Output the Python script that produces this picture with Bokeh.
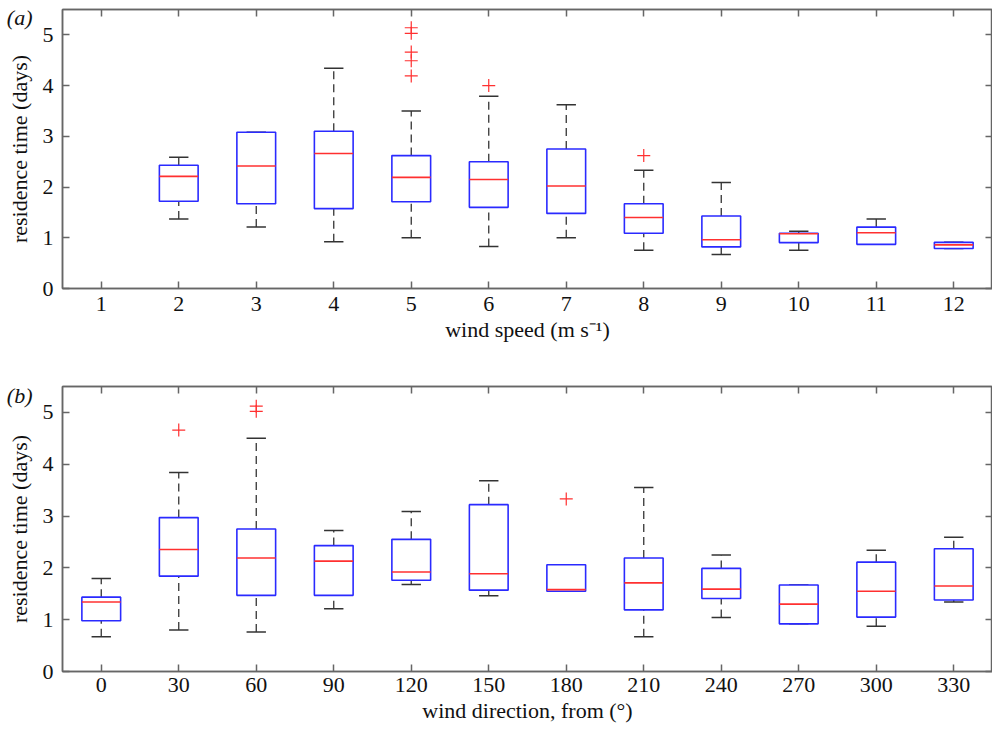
import numpy as np
from bokeh.plotting import figure
from bokeh.models import ColumnDataSource, LinearAxis, FixedTicker, Range1d
from bokeh.transform import dodge
from bokeh.layouts import column
from bokeh.embed import file_html
from bokeh.resources import INLINE

# ---------------- Panel (a): wind speed ----------------
speed_ticks = [1, 2, 3, 4, 5, 6, 7, 8, 9, 10, 11, 12]
speed_x = [2, 3, 4, 5, 6, 7, 8, 9, 10, 11, 12]
speed_lower = [1.37, 1.21, 0.92, 1.00, 0.83, 1.00, 0.755, 0.67, 0.755, 0.87, 0.79]
speed_q1 = [1.72, 1.67, 1.575, 1.71, 1.60, 1.48, 1.09, 0.82, 0.905, 0.87, 0.79]
speed_median = [2.21, 2.415, 2.66, 2.19, 2.15, 2.02, 1.40, 0.96, 1.08, 1.10, 0.86]
speed_q3 = [2.43, 3.08, 3.10, 2.62, 2.50, 2.75, 1.67, 1.43, 1.09, 1.21, 0.91]
speed_upper = [2.585, 3.08, 4.34, 3.50, 3.79, 3.62, 2.33, 2.09, 1.13, 1.37, 0.91]
speed_out_x = [5, 5, 5, 5, 5, 6, 8]
speed_out_y = [5.14, 5.03, 4.66, 4.49, 4.19, 4.00, 2.62]

# ---------------- Panel (b): wind direction ----------------
dir_labels = [0, 30, 60, 90, 120, 150, 180, 210, 240, 270, 300, 330]
dir_lower = [0.67, 0.80, 0.76, 1.21, 1.68, 1.46, 1.55, 0.67, 1.04, 0.92, 0.875, 1.34]
dir_q1 = [0.98, 1.84, 1.47, 1.47, 1.76, 1.57, 1.55, 1.19, 1.41, 0.92, 1.05, 1.38]
dir_median = [1.34, 2.355, 2.19, 2.13, 1.92, 1.885, 1.58, 1.71, 1.59, 1.30, 1.55, 1.65]
dir_q3 = [1.435, 2.97, 2.75, 2.43, 2.55, 3.22, 2.06, 2.19, 1.99, 1.67, 2.11, 2.37]
dir_upper = [1.795, 3.84, 4.50, 2.72, 3.09, 3.68, 2.06, 3.55, 2.25, 1.67, 2.34, 2.59]
dir_out_dir = [30, 60, 60, 180]
dir_out_y = [4.66, 5.12, 5.02, 3.33]

y_ticks = [0, 1, 2, 3, 4, 5]

FONT = "Liberation Serif"
FRAME = "#666666"
BOX = "#2a2aff"
MED = "#ff3030"
WHISK = "#333333"
OUT = "#ff3030"
TAG_POS = 97  # position (percent of frame height) of the panel tag


def make_panel(xs, lower, q1, med, q3, upper, out_x, out_y, tick_pos, overrides,
               xlabel, tag, height, b_top, b_bottom, tick_standoff):
    p = figure(width=992, height=height, output_backend="svg", toolbar_location=None,
               x_range=Range1d(0.5, 12.5), y_range=Range1d(0, 5.5),
               min_border_left=62, min_border_right=0, min_border_top=b_top,
               min_border_bottom=b_bottom)
    p.extra_y_ranges = {"tag": Range1d(0, 100)}
    p.xgrid.visible = False
    p.ygrid.visible = False
    p.outline_line_color = FRAME
    p.outline_line_width = 1.5
    p.background_fill_color = "white"
    p.border_fill_color = "white"

    src = ColumnDataSource(dict(x=xs, lower=lower, q1=q1, med=med, q3=q3, upper=upper))

    # whiskers (dashed)
    p.segment(x0="x", x1="x", y0="q3", y1="upper", source=src, line_color=WHISK,
              line_width=1.3, line_dash="8 5")
    p.segment(x0="x", x1="x", y0="lower", y1="q1", source=src, line_color=WHISK,
              line_width=1.3, line_dash="8 5")
    # caps
    p.segment(x0=dodge("x", -0.125), x1=dodge("x", 0.125), y0="upper", y1="upper",
              source=src, line_color=WHISK, line_width=1.5)
    p.segment(x0=dodge("x", -0.125), x1=dodge("x", 0.125), y0="lower", y1="lower",
              source=src, line_color=WHISK, line_width=1.5)
    # boxes
    p.vbar(x="x", width=0.5, bottom="q1", top="q3", source=src, fill_color="white",
           line_color=BOX, line_width=1.6)
    # medians
    p.segment(x0=dodge("x", -0.25), x1=dodge("x", 0.25), y0="med", y1="med",
              source=src, line_color=MED, line_width=1.6)
    # outliers
    p.scatter(x=out_x, y=out_y, marker="cross", size=13, line_color=OUT, line_width=1.2)

    def style_axis(ax, labels=True):
        ax.axis_line_color = FRAME
        ax.axis_line_width = 1.5
        ax.major_tick_line_color = FRAME
        ax.major_tick_line_width = 1.5
        ax.major_tick_in = 7
        ax.major_tick_out = 0
        ax.minor_tick_line_color = None
        if labels:
            ax.major_label_text_font = FONT
            ax.major_label_text_font_size = "22px"
            ax.major_label_text_color = "#111111"
            ax.axis_label_text_font = FONT
            ax.axis_label_text_font_size = "22px"
            ax.axis_label_text_font_style = "normal"
            ax.axis_label_text_color = "#111111"
        else:
            ax.major_label_text_font_size = "1px"
            ax.major_label_text_color = None
            ax.major_label_standoff = 0

    p.xaxis.ticker = FixedTicker(ticks=tick_pos)
    p.yaxis.ticker = FixedTicker(ticks=y_ticks)
    if overrides:
        p.xaxis.major_label_overrides = overrides
    style_axis(p.xaxis[0])
    style_axis(p.yaxis[0])
    p.xaxis.major_label_standoff = tick_standoff
    p.xaxis.axis_label_standoff = 3
    p.yaxis.major_label_standoff = 9
    p.xaxis.axis_label = xlabel

    # outer left axis: carries the panel tag and the y-axis title
    tag_ax = LinearAxis(y_range_name="tag", ticker=FixedTicker(ticks=[TAG_POS]),
                        major_label_overrides={TAG_POS: "(" + tag + ")"})
    style_axis(tag_ax)
    tag_ax.axis_line_color = None
    tag_ax.major_tick_line_color = None
    tag_ax.major_label_text_font_style = "italic"
    tag_ax.major_label_standoff = 7
    tag_ax.axis_label = "residence time (days)"
    tag_ax.axis_label_standoff = -28
    p.add_layout(tag_ax, "left")

    top_ax = LinearAxis(ticker=FixedTicker(ticks=tick_pos))
    right_ax = LinearAxis(ticker=FixedTicker(ticks=y_ticks))
    style_axis(top_ax, labels=False)
    style_axis(right_ax, labels=False)
    p.add_layout(top_ax, "above")
    p.add_layout(right_ax, "right")
    return p


pa = make_panel(speed_x, speed_lower, speed_q1, speed_median, speed_q3, speed_upper,
                speed_out_x, speed_out_y, speed_ticks, None,
                "wind speed (m s\u207b\u00b9)", "a", 370, 9, 82, 8)

dir_x = [i + 1 for i in range(len(dir_labels))]
dir_over = {i + 1: str(d) for i, d in enumerate(dir_labels)}
dir_out_x = [dir_labels.index(d) + 1 for d in dir_out_dir]
pb = make_panel(dir_x, dir_lower, dir_q1, dir_median, dir_q3, dir_upper,
                dir_out_x, dir_out_y, list(dir_x), dir_over,
                "wind direction, from (\u00b0)", "b", 360, 16, 59, 6)

layout = column(pa, pb, spacing=0)
open("out.html", "w").write(file_html(layout, INLINE))
